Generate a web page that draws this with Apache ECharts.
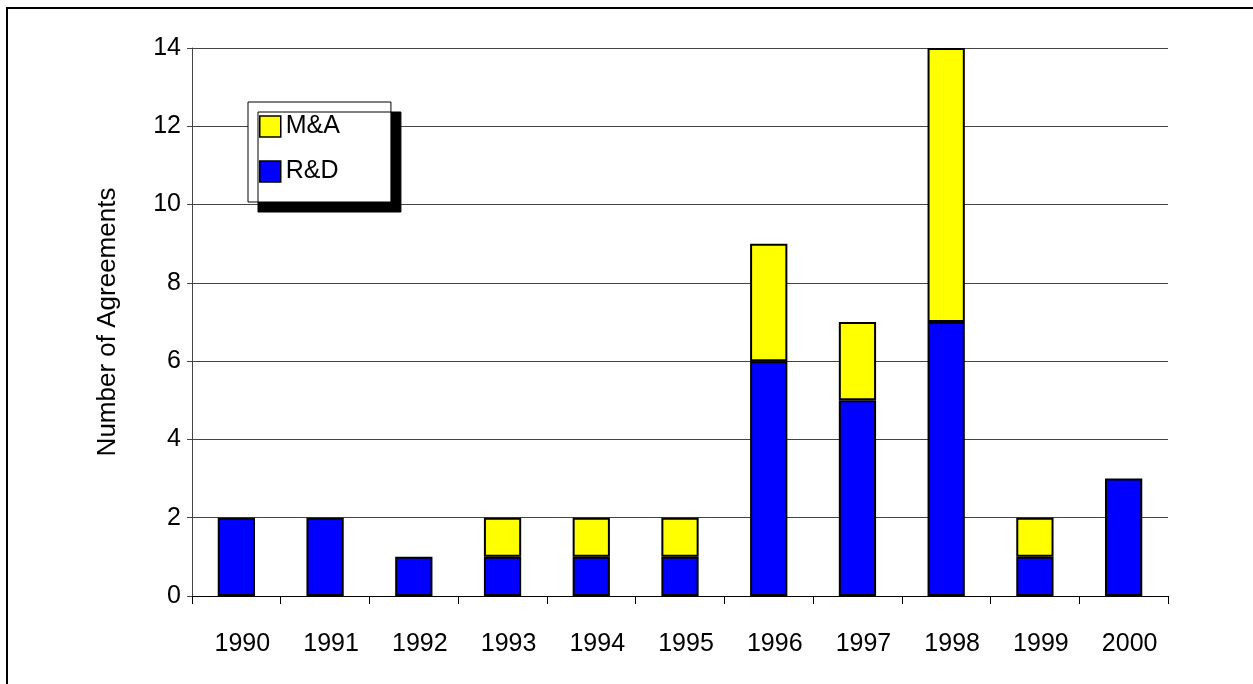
<!DOCTYPE html>
<html>
<head>
<meta charset="utf-8">
<script src="https://cdn.jsdelivr.net/npm/echarts@6/dist/echarts.min.js"></script>
<style>
  html, body { margin: 0; padding: 0; background: #fff; overflow: hidden; }
  #wrap { position: relative; width: 1253px; height: 684px; }
  #main { width: 1253px; height: 684px; }
  /* outer frame, only top and left edges are inside the picture */
  #frame {
    position: absolute; left: 6px; top: 7px; width: 1300px; height: 700px;
    border-left: 2px solid #000; border-top: 2px solid #000;
    pointer-events: none;
  }
</style>
</head>
<body>
<div id="wrap">
  <div id="main"></div>
  <div id="frame"></div>
</div>
<script>
var years = ['1990', '1991', '1992', '1993', '1994', '1995', '1996', '1997', '1998', '1999', '2000'];
var rdValues = [2, 2, 1, 1, 1, 1, 6, 5, 7, 1, 3];
var maValues = [0, 0, 0, 1, 1, 1, 3, 2, 7, 1, 0];
var yTicks = [0, 2, 4, 6, 8, 10, 12, 14];

var font = 'Liberation Sans, Arial, sans-serif';
var chart = echarts.init(document.getElementById('main'));

// empty segments are not drawn (avoid a zero-height outlined box)
function noZero(arr) {
  return arr.map(function (v) { return v === 0 ? '-' : v; });
}

var option = {
  backgroundColor: '#ffffff',
  animation: false,
  textStyle: { fontFamily: font },
  grid: {
    left: 192,
    right: 85,
    top: 48,
    bottom: 88
  },
  legend: {
    orient: 'vertical',
    left: 248,
    top: 102,
    data: ['M&A', 'R&D'],
    icon: 'rect',
    itemWidth: 21,
    itemHeight: 21,
    itemGap: 20,
    padding: [12, 51, 18, 11],
    backgroundColor: '#fff',
    borderColor: '#000',
    borderWidth: 1,
    shadowColor: '#000',
    shadowBlur: 0,
    shadowOffsetX: 10,
    shadowOffsetY: 10,
    textStyle: { fontSize: 25, color: '#000', fontFamily: font },
    itemStyle: { borderColor: '#000', borderWidth: 1.5 }
  },
  xAxis: {
    type: 'category',
    data: years,
    axisLine: { lineStyle: { color: '#000', width: 1 } },
    axisTick: { show: true, length: 8, alignWithLabel: false, lineStyle: { color: '#000' } },
    // labels sit a little right of the bar centres in the original
    axisLabel: { fontSize: 25, color: '#000', margin: 36, padding: [0, 0, 0, 12], fontFamily: font }
  },
  yAxis: {
    type: 'value',
    min: yTicks[0],
    max: yTicks[yTicks.length - 1],
    interval: 2,
    name: 'Number of Agreements',
    nameLocation: 'middle',
    nameRotate: 90,
    nameGap: 71,
    nameTextStyle: { fontSize: 26, color: '#000', fontFamily: font },
    axisLine: { show: true, lineStyle: { color: '#444', width: 1 } },
    axisTick: { show: true, length: 5, lineStyle: { color: '#444' } },
    axisLabel: { fontSize: 25, color: '#000', margin: 11, fontFamily: font },
    splitLine: { show: true, lineStyle: { color: '#444', width: 1 } }
  },
  series: [{
    name: 'R&D',
    type: 'bar',
    stack: 'total',
    barWidth: '42%',
    data: noZero(rdValues),
    itemStyle: { color: '#0000ff', borderColor: '#000', borderWidth: 2 }
  }, {
    name: 'M&A',
    type: 'bar',
    stack: 'total',
    barWidth: '42%',
    data: noZero(maValues),
    itemStyle: { color: '#ffff00', borderColor: '#000', borderWidth: 2 }
  }]
};

chart.setOption(option);
</script>
</body>
</html>
